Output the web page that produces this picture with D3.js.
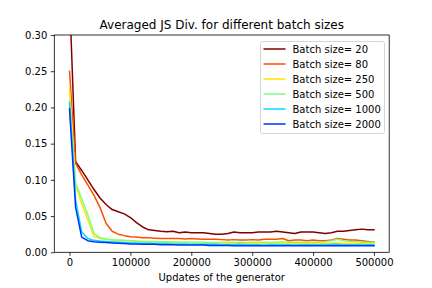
<!DOCTYPE html>
<html>
<head>
<meta charset="utf-8">
<script src="https://cdn.jsdelivr.net/npm/d3@7"></script>
<style>
  html, body { margin: 0; padding: 0; background: #fff; }
  svg { display: block; font-family: "DejaVu Sans", sans-serif; }
</style>
</head>
<body>
<svg id="chart" width="432" height="288"></svg>
<script>
// ---- data ----
const steps = [
  0, 10000, 20000, 30000, 40000, 50000, 60000, 70000, 80000, 90000,
  100000, 110000, 120000, 130000, 140000, 150000, 160000, 170000, 180000, 190000,
  200000, 210000, 220000, 230000, 240000, 250000, 260000, 270000, 280000, 290000,
  300000, 310000, 320000, 330000, 340000, 350000, 360000, 370000, 380000, 390000,
  400000, 410000, 420000, 430000, 440000, 450000, 460000, 470000, 480000, 490000,
  500000
];
const batchLabels = ["Batch size= 20", "Batch size= 80", "Batch size= 250",
                     "Batch size= 500", "Batch size= 1000", "Batch size= 2000"];
const s20 = [
  0.355, 0.125, 0.113, 0.100, 0.087, 0.075, 0.066, 0.059, 0.056, 0.053,
  0.048, 0.041, 0.035, 0.031, 0.030, 0.029, 0.0285, 0.029, 0.027, 0.028,
  0.027, 0.027, 0.027, 0.026, 0.025, 0.025, 0.026, 0.028, 0.027, 0.027,
  0.027, 0.028, 0.028, 0.028, 0.029, 0.028, 0.027, 0.026, 0.028, 0.028,
  0.028, 0.027, 0.026, 0.027, 0.029, 0.029, 0.030, 0.031, 0.032, 0.031,
  0.031
];
const s80 = [
  0.250, 0.123, 0.107, 0.093, 0.079, 0.062, 0.040, 0.029, 0.025, 0.023,
  0.0215, 0.021, 0.020, 0.020, 0.0195, 0.019, 0.019, 0.019, 0.019, 0.0185,
  0.019, 0.0185, 0.018, 0.018, 0.018, 0.0175, 0.017, 0.0175, 0.017, 0.017,
  0.0175, 0.017, 0.018, 0.018, 0.018, 0.019, 0.016, 0.017, 0.017, 0.016,
  0.017, 0.016, 0.016, 0.017, 0.019, 0.018, 0.017, 0.017, 0.016, 0.015,
  0.014
];
const s250 = [
  0.226, 0.093, 0.067, 0.045, 0.022, 0.019, 0.018, 0.017, 0.0165, 0.016,
  0.0155, 0.015, 0.015, 0.0145, 0.0145, 0.014, 0.014, 0.014, 0.014, 0.0135,
  0.0135, 0.0135, 0.013, 0.013, 0.013, 0.013, 0.0125, 0.013, 0.0125, 0.0125,
  0.0125, 0.012, 0.0125, 0.0125, 0.0125, 0.012, 0.012, 0.0125, 0.012, 0.012,
  0.012, 0.012, 0.0125, 0.0125, 0.013, 0.0125, 0.012, 0.012, 0.012, 0.012,
  0.0115
];
const s500 = [
  0.210, 0.096, 0.074, 0.052, 0.026, 0.020, 0.0185, 0.0175, 0.017, 0.0165,
  0.016, 0.0155, 0.015, 0.015, 0.015, 0.0145, 0.0145, 0.0145, 0.014, 0.014,
  0.014, 0.014, 0.014, 0.0135, 0.0135, 0.0135, 0.014, 0.0135, 0.014, 0.0135,
  0.014, 0.014, 0.014, 0.0135, 0.014, 0.0145, 0.014, 0.014, 0.014, 0.0135,
  0.014, 0.014, 0.0145, 0.016, 0.018, 0.016, 0.015, 0.0145, 0.014, 0.014,
  0.0135
];
const s1000 = [
  0.206, 0.072, 0.028, 0.019, 0.0165, 0.0155, 0.015, 0.0145, 0.014, 0.0135,
  0.013, 0.013, 0.0125, 0.0125, 0.012, 0.012, 0.012, 0.0115, 0.0115, 0.0115,
  0.011, 0.011, 0.011, 0.011, 0.011, 0.0105, 0.0105, 0.0105, 0.011, 0.0105,
  0.0105, 0.0105, 0.010, 0.0105, 0.0105, 0.0105, 0.0105, 0.010, 0.0105, 0.0105,
  0.0105, 0.0105, 0.0105, 0.011, 0.011, 0.0105, 0.0105, 0.0105, 0.0105, 0.0105,
  0.0105
];
const s2000 = [
  0.198, 0.062, 0.021, 0.016, 0.0145, 0.014, 0.0135, 0.013, 0.0125, 0.012,
  0.0115, 0.0115, 0.011, 0.011, 0.011, 0.0105, 0.0105, 0.0105, 0.010, 0.010,
  0.010, 0.010, 0.010, 0.0095, 0.0095, 0.0095, 0.0095, 0.009, 0.009, 0.009,
  0.009, 0.009, 0.009, 0.009, 0.009, 0.009, 0.009, 0.009, 0.009, 0.009,
  0.009, 0.009, 0.009, 0.009, 0.009, 0.009, 0.009, 0.009, 0.009, 0.009,
  0.009
];
const xTicks = [0, 100000, 200000, 300000, 400000, 500000];
const yTicks = [0.00, 0.05, 0.10, 0.15, 0.20, 0.25, 0.30];
const titleText = "Averaged JS Div. for different batch sizes";
const xLabelText = "Updates of the generator";

const allSeries = [s20, s80, s250, s500, s1000, s2000];
const colors = ["#800000", "#ff4d00", "#ffe500", "#7dff7a", "#00d8ff", "#0030ff"];

// ---- layout ----
const W = 432, H = 288;
const L = 54.3, R = 389.2, T = 35, B = 252.3;

const svg = d3.select("#chart");
const x = d3.scaleLinear().domain([-25000, 525000]).range([L, R]);
const y = d3.scaleLinear().domain([0, 0.3]).range([B, T]);

svg.append("defs").append("clipPath").attr("id", "clip")
  .append("rect").attr("x", L).attr("y", T).attr("width", R - L).attr("height", B - T);

const line = d3.line().x((d, i) => x(steps[i])).y(d => y(d));
const plot = svg.append("g").attr("clip-path", "url(#clip)");
allSeries.forEach((s, k) => {
  plot.append("path").datum(s)
    .attr("d", line)
    .attr("fill", "none")
    .attr("stroke", colors[k])
    .attr("stroke-width", 1.5)
    .attr("stroke-linejoin", "round")
    .attr("stroke-linecap", "square");
});

// axes
const xAxis = d3.axisBottom(x).tickValues(xTicks).tickFormat(d3.format("d"))
  .tickSizeInner(3.5).tickSizeOuter(0).tickPadding(3.5);
const yAxis = d3.axisLeft(y).tickValues(yTicks).tickFormat(d3.format(".2f"))
  .tickSizeInner(3.5).tickSizeOuter(0).tickPadding(3.5);

const gx = svg.append("g").attr("transform", `translate(0,${B})`).call(xAxis);
const gy = svg.append("g").attr("transform", `translate(${L},0)`).call(yAxis);
[gx, gy].forEach(g => {
  g.select(".domain").remove();
  g.selectAll(".tick line").attr("stroke", "#000").attr("stroke-width", 0.8);
  g.selectAll(".tick text").attr("fill", "#000")
    .style("font-family", "DejaVu Sans, sans-serif").style("font-size", "10px");
});

// spines
svg.append("rect").attr("x", L).attr("y", T).attr("width", R - L).attr("height", B - T)
  .attr("fill", "none").attr("stroke", "#000").attr("stroke-width", 0.8);

// title & labels
svg.append("text").attr("x", (L + R) / 2).attr("y", 29)
  .attr("text-anchor", "middle").style("font-size", "12px").attr("fill", "#000")
  .text(titleText);
svg.append("text").attr("x", (L + R) / 2).attr("y", 281)
  .attr("text-anchor", "middle").style("font-size", "10px").attr("fill", "#000")
  .text(xLabelText);

// legend
const lg = svg.append("g");
const lgX = 260.5, lgY = 41.5, lgW = 124, lgH = 92;
lg.append("rect").attr("x", lgX).attr("y", lgY).attr("width", lgW).attr("height", lgH)
  .attr("rx", 2).attr("ry", 2)
  .attr("fill", "#fff").attr("fill-opacity", 0.8)
  .attr("stroke", "#cccccc").attr("stroke-width", 0.8);
batchLabels.forEach((lab, k) => {
  const cy = lgY + 7.5 + k * 15;
  lg.append("line").attr("x1", lgX + 3).attr("x2", lgX + 25)
    .attr("y1", cy).attr("y2", cy)
    .attr("stroke", colors[k]).attr("stroke-width", 1.5);
  lg.append("text").attr("x", lgX + 32).attr("y", cy + 3.6)
    .style("font-size", "10px").attr("fill", "#000").text(lab);
});
</script>
</body>
</html>
